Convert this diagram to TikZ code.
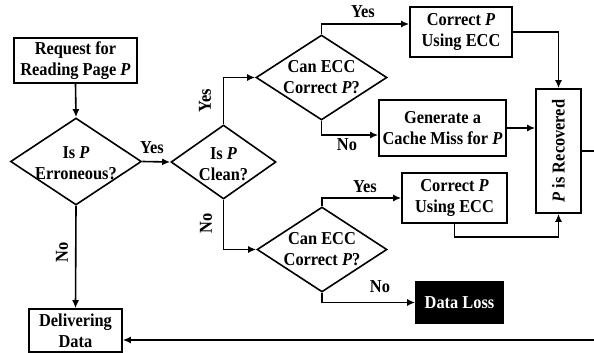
\documentclass[tikz,border=0pt]{standalone}
\usepackage{fontspec}
\setmainfont[FakeStretch=0.9]{Liberation Serif}
\usetikzlibrary{shapes.geometric,arrows.meta,positioning}
\begin{document}
\begin{tikzpicture}[x=1pt,y=-1pt,
  every node/.style={font=\fontsize{18.2}{21}\selectfont\bfseries},
  box/.style={draw,line width=1.6pt,rectangle,inner sep=0pt,align=center},
  dia/.style={draw,line width=1.6pt,diamond,inner sep=0pt},
  dtext/.style={align=center,inner sep=0pt},
  conn/.style={line width=1.6pt,-{Latex[length=8pt,width=7pt]}},
  lab/.style={inner sep=0pt}
]
\clip (0,0) rectangle (594,353);
\fill[white] (0,0) rectangle (594,353);
% boxes
\node[box,minimum width=123pt,minimum height=45pt] (req) at (75.5,60.5) {Request for\\Reading Page \textit{P}};
\node[box,minimum width=102pt,minimum height=50pt] (corr1) at (461,32) {Correct \textit{P}\\Using ECC};
\node[box,minimum width=127pt,minimum height=56pt] (gen) at (442.5,128) {Generate a\\Cache Miss for \textit{P}};
\node[box,minimum width=45pt,minimum height=124pt] (rec) at (558.5,151) {};
\node[rotate=90] (rectext) at (rec.center) {\textit{P} is Recovered};
\node[box,minimum width=105pt,minimum height=50pt] (corr2) at (454.5,198) {Correct \textit{P}\\Using ECC};
\node[box,fill=black,text=white,minimum width=87pt,minimum height=41pt] (loss) at (459.5,302.5) {Data Loss};
\node[box,minimum width=93pt,minimum height=43pt] (deliv) at (75.5,330.5) {Delivering\\Data};
% diamonds
\node[dia,minimum width=131pt,minimum height=87pt] (d1) at (76,161.5) {};
\node[dtext] (d1t) at ([yshift=-2pt]d1.center) {Is \textit{P}\\Erroneous?};
\node[dia,minimum width=105pt,minimum height=74pt] (d2) at (223.5,162) {};
\node[dtext] (d2t) at ([yshift=-2pt]d2.center) {Is \textit{P}\\Clean?};
\node[dia,minimum width=131pt,minimum height=85pt] (d3) at (321.5,77.5) {};
\node[dtext] (d3t) at (d3.center) {Can ECC\\Correct \textit{P}?};
\node[dia,minimum width=130pt,minimum height=85pt] (d4) at (322,249.5) {};
\node[dtext] (d4t) at (d4.center) {Can ECC\\Correct \textit{P}?};
% return path coordinates
\coordinate (rr) at (600,151);
\coordinate (rb) at (600,340);
% connectors
\draw[conn] (req.south) -- (d1.north);
\draw[conn] (d1.east) -- (d2.west);
\draw[conn] (d2.north) |- (d3.west);
\draw[conn] (d3.north) |- ([yshift=8pt]corr1.west);
\draw[conn] (corr1.east) -| (rec.north);
\draw[conn] (d3.south) |- ([yshift=-7pt]gen.west);
\draw[conn] (gen.east) -- (gen.east -| rec.west);
\draw[conn] (d2.south) |- (d4.west);
\draw[conn] (d4.north) |- (corr2.west);
\draw[conn] (corr2.south) -- ([yshift=-13pt]corr2.south) -| (rec.south);
\draw[conn] (d4.south) |- (loss.west);
\draw[conn] (d1.south) -- (deliv.north);
\draw[line width=1.6pt] (rec.east) -- (rr) -- (rb);
\draw[conn] (rb) -- (rb -| deliv.east);
% labels
\node[lab] (l1) at (152,148) {Yes};
\node[lab,rotate=90] (l2) at (205,101) {Yes};
\node[lab] (l3) at (363,12) {Yes};
\node[lab] (l4) at (347,145) {No};
\node[lab,rotate=90] (l5) at (206,223) {No};
\node[lab] (l6) at (365,187) {Yes};
\node[lab] (l7) at (380,287) {No};
\node[lab,rotate=90] (l8) at (62,252) {No};
\end{tikzpicture}
\end{document}
